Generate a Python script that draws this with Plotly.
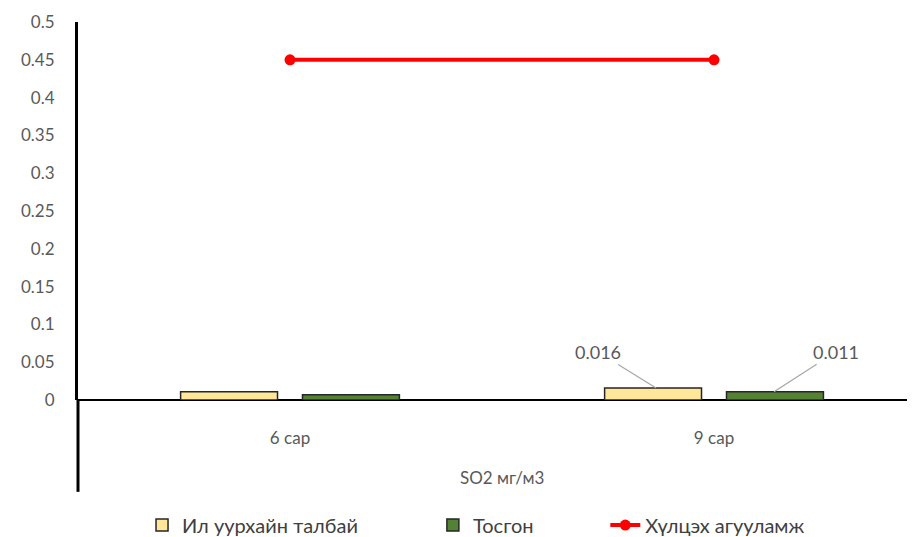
import plotly.graph_objects as go

categories = ["6 сар", "9 сар"]
il_uurhai = [0.011, 0.016]
tosgon = [0.007, 0.011]
hultseh = [0.45, 0.45]
y_ticks = [0, 0.05, 0.1, 0.15, 0.2, 0.25, 0.3, 0.35, 0.4, 0.45, 0.5]
y_ticktext = ["0", "0.05", "0.1", "0.15", "0.2", "0.25", "0.3", "0.35", "0.4", "0.45", "0.5"]
group_title = "SO2 мг/м3"

GRAY = "#595959"
FONT = "Lato"

fig = go.Figure()
fig.add_trace(go.Bar(
    x=categories, y=il_uurhai, name="Ил уурхайн талбай", legend="legend",
    marker=dict(color="#FFE699", line=dict(color="#262626", width=1.5)),
))
fig.add_trace(go.Bar(
    x=categories, y=tosgon, name="Тосгон", legend="legend2",
    marker=dict(color="#548235", line=dict(color="#262626", width=1.5)),
))
fig.add_trace(go.Scatter(
    x=categories, y=hultseh, name="Хүлцэх агууламж", mode="lines+markers", legend="legend3",
    line=dict(color="#FF0000", width=4),
    marker=dict(color="#FF0000", size=11),
))

# data labels with leader lines for 9 сар
fig.add_annotation(x=categories[1], y=il_uurhai[1], xshift=-58, text=f"{il_uurhai[1]:.3f}",
                   showarrow=True, arrowhead=0, arrowwidth=1.2, arrowcolor="#A6A6A6",
                   ax=-58, ay=-36, font=dict(family=FONT, size=18, color=GRAY))
fig.add_annotation(x=categories[1], y=tosgon[1], xshift=60, text=f"{tosgon[1]:.3f}",
                   showarrow=True, arrowhead=0, arrowwidth=1.2, arrowcolor="#A6A6A6",
                   ax=62, ay=-40, font=dict(family=FONT, size=18, color=GRAY))

fig.add_annotation(x=0.5, y=-0.204, xref="x", yref="paper", yanchor="middle", text=group_title,
                   showarrow=False, font=dict(family=FONT, size=17, color=GRAY))

# extension of vertical axis through category label area
fig.add_shape(type="line", xref="paper", yref="paper", x0=0, x1=0, y0=0, y1=-0.243,
              line=dict(color="black", width=3))

leg_common = dict(orientation="h", y=-0.331, yanchor="middle", xanchor="left",
                  font=dict(family=FONT, size=20, color="#404040"),
                  itemwidth=30, bgcolor="rgba(0,0,0,0)")

fig.update_layout(
    width=907, height=529,
    margin=dict(l=70, r=0, t=14, b=137, autoexpand=False),
    paper_bgcolor="white", plot_bgcolor="white",
    barmode="group", bargap=0.425, bargroupgap=0.205,
    font=dict(family=FONT, size=17, color=GRAY),
    showlegend=True,
    legend=dict(x=0.0765, **leg_common),
    legend2=dict(x=0.424, **leg_common),
    legend3=dict(x=0.63, **leg_common),
    xaxis=dict(range=[-0.5, 1.474], showgrid=False, showline=False, zeroline=False,
               ticks="", ticklabelstandoff=26, automargin=False,
               tickfont=dict(family=FONT, size=17, color=GRAY)),
    yaxis=dict(range=[0, 0.5], tickvals=y_ticks, ticktext=y_ticktext,
               showgrid=False, showline=True, linecolor="black", linewidth=3,
               zeroline=True, zerolinecolor="black", zerolinewidth=2,
               ticks="", ticklabelstandoff=17, automargin=False,
               tickfont=dict(family=FONT, size=17, color=GRAY)),
)

fig.write_html("out.html")
